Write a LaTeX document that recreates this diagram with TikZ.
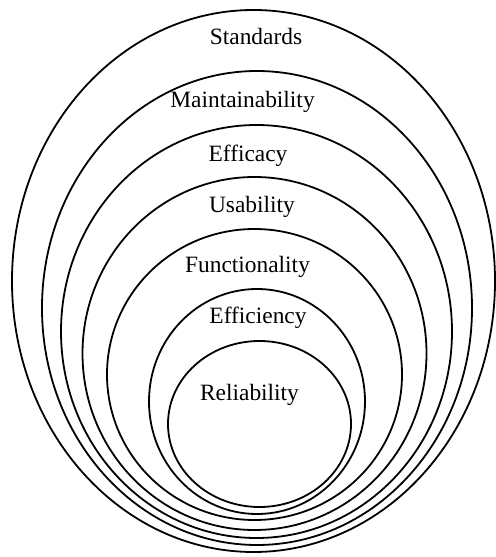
\documentclass[tikz,border=0pt]{standalone}
\usepackage{fontspec}
\setmainfont{Liberation Serif}
\begin{document}
\begin{tikzpicture}[x=1bp,y=-1bp,
  ring/.style={draw=black,line width=1.8bp},
  lbl/.style={anchor=base,inner sep=0pt,font=\fontsize{23.5}{28}\selectfont}]
\useasboundingbox (0,0) rectangle (496,557);
\draw[ring] (253.5,281) ellipse [x radius=241.5,y radius=271];
\draw[ring] (257,308) ellipse [x radius=215,y radius=237];
\draw[ring] (256.5,331.5) ellipse [x radius=195.5,y radius=206.5];
\draw[ring] (254.5,353.5) ellipse [x radius=172,y radius=176.5];
\draw[ring] (254.5,374.5) ellipse [x radius=147.5,y radius=145.5];
\draw[ring] (257,401.5) ellipse [x radius=108,y radius=112.5];
\draw[ring] (259.5,424) ellipse [x radius=91.5,y radius=83];
\node[lbl] (standards) at (256,45) {Standards};
\node[lbl] (maint) at (242.5,108) {Maintainability};
\node[lbl] (efficacy) at (248,162) {Efficacy};
\node[lbl] (usability) at (252,213) {Usability};
\node[lbl] (func) at (247.5,272) {Functionality};
\node[lbl] (efficiency) at (258,323) {Efficiency};
\node[lbl] (reliab) at (249.5,400) {Reliability};
\end{tikzpicture}
\end{document}
